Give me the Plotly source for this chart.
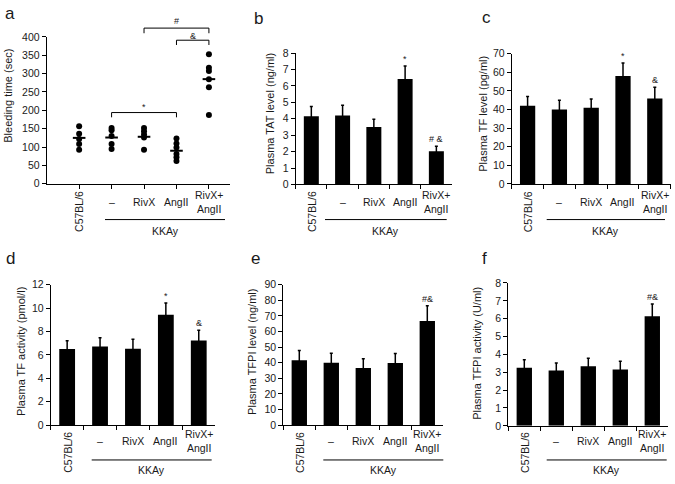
import plotly.graph_objects as go

# ---------------- data ----------------
categories = ["C57BL/6", "–", "RivX", "AngII", "RivX+AngII"]
cat_labels = ["C57BL/6", "–", "RivX", "AngII", "RivX+<br>AngII"]
group_label = "KKAy"

# panel a: bleeding time (sec), individual animals
a_c57 = [157, 136, 122, 108, 93]
a_kkay = [152, 146, 130, 108, 95]
a_rivx = [152, 143, 134, 126, 93]
a_angii = [123, 110, 99, 81, 72, 62]
a_rivx_angii = [353, 316, 307, 285, 263, 187]
a_means = [125, 126, 128, 90, 285]
a_ticks = [0, 50, 100, 150, 200, 250, 300, 350, 400]
# brackets: (from, to, bar level, drop level, label, label level)
a_brackets = [(2, 4, 194, 181, "*", 210), (3, 5, 424, 410, "#", 444), (4, 5, 391, 378, "&", 403)]

b_mean = [4.15, 4.2, 3.5, 6.42, 2.02]
b_err = [0.6, 0.62, 0.47, 0.8, 0.3]
b_sig = ["", "", "", "*", "# &"]
b_ticks = [0, 1, 2, 3, 4, 5, 6, 7, 8]

c_mean = [42, 40, 41, 58, 46]
c_err = [5, 5, 4.7, 7, 6]
c_sig = ["", "", "", "*", "&"]
c_ticks = [0, 10, 20, 30, 40, 50, 60, 70]

d_mean = [6.5, 6.72, 6.53, 9.42, 7.22]
d_err = [0.7, 0.75, 0.8, 1.02, 0.89]
d_sig = ["", "", "", "*", "&"]
d_ticks = [0, 2, 4, 6, 8, 10, 12]

e_mean = [41.5, 40, 36.5, 39.8, 66.7]
e_err = [6.2, 6, 6, 6, 9.8]
e_sig = ["", "", "", "", "#&"]
e_ticks = [0, 10, 20, 30, 40, 50, 60, 70, 80, 90]

f_mean = [3.25, 3.1, 3.34, 3.16, 6.14]
f_err = [0.45, 0.42, 0.45, 0.45, 0.68]
f_sig = ["", "", "", "", "#&"]
f_ticks = [0, 1, 2, 3, 4, 5, 6, 7, 8]

titles = {
    "a": "Bleeding time (sec)",
    "b": "Plasma TAT level (ng/ml)",
    "c": "Plasma TF level (pg/ml)",
    "d": "Plasma TF activity (pmol/l)",
    "e": "Plasma TFPI level (ng/ml)",
    "f": "Plasma TFPI activity (U/ml)",
}

# ---------------- layout geometry (pixels) ----------------
W, H = 675, 484
FONT = "Liberation Sans, Arial, sans-serif"
TXT = "#1a1a1a"


def px(x):
    return x / W


def py(y):
    return 1 - y / H


geo = {
    "a": dict(x0=46.7, x1=230.0, yt=31.7, yb=182.3, title_x=8, title_y=92, lab=(3, 8),
              row="top"),
    "b": dict(x0=295.7, x1=452.0, yt=48.3, yb=183.0, title_x=270, title_y=111, lab=(252, 13),
              row="top"),
    "c": dict(x0=511.7, x1=670.7, yt=49.0, yb=182.5, title_x=483.5, title_y=111, lab=(480, 12),
              row="top"),
    "d": dict(x0=50.7, x1=215.2, yt=285.7, yb=429.7, title_x=21.7, title_y=354, lab=(4, 259),
              row="bot"),
    "e": dict(x0=283.3, x1=443.3, yt=285.7, yb=429.7, title_x=251.7, title_y=355, lab=(249, 259),
              row="bot"),
    "f": dict(x0=508.3, x1=668.3, yt=284.0, yb=430.5, title_x=476.7, title_y=356, lab=(480, 259),
              row="bot"),
}
rows = {
    "top": dict(lab_y=201, rot_y=211, line_y=219, kk_y=230.5),
    "bot": dict(lab_y=446.5, rot_y=458, line_y=465.5, kk_y=476),
}
# underline extents (pixels) per panel
underline = {
    "a": (105, 225), "b": (325, 446.7), "c": (546.7, 665),
    "d": (91.7, 211.7), "e": (323.3, 443.3), "f": (546.7, 666.7),
}

fig = go.Figure()
annotations = []
shapes = []

axis_common = dict(showline=True, linecolor="black", linewidth=1, showgrid=False,
                   zeroline=False, ticks="outside", ticklen=4, tickcolor="black",
                   tickwidth=1, tickfont=dict(family=FONT, size=10.5, color=TXT))

panel_order = ["a", "b", "c", "d", "e", "f"]
bar_data = {
    "b": (b_mean, b_err, b_sig, b_ticks),
    "c": (c_mean, c_err, c_sig, c_ticks),
    "d": (d_mean, d_err, d_sig, d_ticks),
    "e": (e_mean, e_err, e_sig, e_ticks),
    "f": (f_mean, f_err, f_sig, f_ticks),
}

for k, key in enumerate(panel_order):
    g = geo[key]
    sfx = "" if k == 0 else str(k + 1)
    xa, ya = "x" + sfx, "y" + sfx
    xdom = [px(g["x0"]), px(g["x1"])]
    ydom = [py(g["yb"]), py(g["yt"])]

    if key == "a":
        groups = [a_c57, a_kkay, a_rivx, a_angii, a_rivx_angii]
        for i, pts in enumerate(groups):
            fig.add_trace(go.Scatter(x=[i + 1] * len(pts), y=pts, mode="markers",
                                     marker=dict(color="black", size=6),
                                     xaxis=xa, yaxis=ya, showlegend=False, cliponaxis=False))
        fig.add_trace(go.Scatter(x=[1, 2, 3, 4, 5], y=a_means, mode="markers",
                                 marker=dict(symbol="line-ew", size=9,
                                             line=dict(color="black", width=2)),
                                 xaxis=xa, yaxis=ya, showlegend=False, cliponaxis=False))
        xr = [0, 5.65]
        ymax = a_ticks[-1]
        fig.layout["xaxis" + sfx] = dict(axis_common, domain=xdom, range=xr,
                                         tickvals=[1, 2, 3, 4, 5], showticklabels=False,
                                         anchor=ya)
        fig.layout["yaxis" + sfx] = dict(axis_common, domain=ydom, range=[0, ymax],
                                         tickvals=a_ticks, anchor=xa)

        def xpix(v, g=g, xr=xr):
            return g["x0"] + (v - xr[0]) / (xr[1] - xr[0]) * (g["x1"] - g["x0"])

        def ypix(v, g=g, ymax=ymax):
            return g["yb"] - v / ymax * (g["yb"] - g["yt"])

        for (f0, f1, lev, drop, lab, labl) in a_brackets:
            X0, X1 = px(xpix(f0)), px(xpix(f1))
            Yb, Yd = py(ypix(lev)), py(ypix(drop))
            shapes.append(dict(type="path", xref="paper", yref="paper",
                               path=f"M {X0},{Yd} L {X0},{Yb} L {X1},{Yb} L {X1},{Yd}",
                               line=dict(color="black", width=1)))
            annotations.append(dict(xref="paper", yref="paper", x=px(xpix((f0 + f1) / 2)),
                                    y=py(ypix(labl)), text=lab, showarrow=False,
                                    xanchor="center", yanchor="middle",
                                    font=dict(family=FONT, size=9, color=TXT)))
        label_x = [1, 2, 3, 4, 5]
    else:
        mean, err, sig, ticks = bar_data[key]
        fig.add_trace(go.Bar(x=categories, y=mean, width=0.48,
                             marker=dict(color="black", line=dict(width=0)),
                             error_y=dict(type="data", array=err, visible=True,
                                          color="black", thickness=1.5, width=1.5),
                             xaxis=xa, yaxis=ya, showlegend=False))
        fig.layout["xaxis" + sfx] = dict(axis_common, domain=xdom, type="category",
                                         categoryorder="array", categoryarray=categories,
                                         range=[-0.5, 4.5], tickson="boundaries",
                                         showticklabels=False, anchor=ya)
        fig.layout["yaxis" + sfx] = dict(axis_common, domain=ydom, range=[0, ticks[-1]],
                                         tickvals=ticks, anchor=xa)
        for i, s in enumerate(sig):
            if s:
                annotations.append(dict(xref=xa, yref=ya, x=categories[i], y=mean[i] + err[i],
                                        text=s, showarrow=False, xanchor="center",
                                        yanchor="bottom", yshift=0,
                                        font=dict(family=FONT, size=9, color=TXT)))
        label_x = categories

    r = rows[g["row"]]
    # category labels
    for i, lab in enumerate(cat_labels):
        if i == 0:
            annotations.append(dict(xref=xa, yref="paper", x=label_x[i], y=py(r["rot_y"]),
                                    text=lab, textangle=-90, showarrow=False,
                                    xanchor="center", yanchor="middle",
                                    font=dict(family=FONT, size=10.5, color=TXT)))
        else:
            annotations.append(dict(xref=xa, yref="paper", x=label_x[i], y=py(r["lab_y"]),
                                    text=lab, showarrow=False, xanchor="center",
                                    yanchor="middle",
                                    font=dict(family=FONT, size=10.5, color=TXT)))
    u0, u1 = underline[key]
    shapes.append(dict(type="line", xref="paper", yref="paper", x0=px(u0), x1=px(u1),
                       y0=py(r["line_y"]), y1=py(r["line_y"]),
                       line=dict(color="black", width=1)))
    annotations.append(dict(xref="paper", yref="paper", x=px((u0 + u1) / 2), y=py(r["kk_y"]),
                            text=group_label, showarrow=False, xanchor="center",
                            yanchor="middle", font=dict(family=FONT, size=10.5, color=TXT)))
    # axis title
    annotations.append(dict(xref="paper", yref="paper", x=px(g["title_x"]), y=py(g["title_y"]),
                            text=titles[key], textangle=-90, showarrow=False,
                            xanchor="center", yanchor="middle",
                            font=dict(family=FONT, size=11, color=TXT)))
    # panel letter
    annotations.append(dict(xref="paper", yref="paper", x=px(g["lab"][0]), y=py(g["lab"][1]),
                            text=key, showarrow=False, xanchor="left", yanchor="middle",
                            font=dict(family=FONT, size=17, color=TXT)))

fig.update_layout(width=W, height=H, margin=dict(l=0, r=0, t=0, b=0),
                  paper_bgcolor="white", plot_bgcolor="white",
                  annotations=annotations, shapes=shapes,
                  font=dict(family=FONT, color=TXT))
fig.write_html("out.html", config={"displayModeBar": False},
               post_script="document.body.style.margin='0';")
